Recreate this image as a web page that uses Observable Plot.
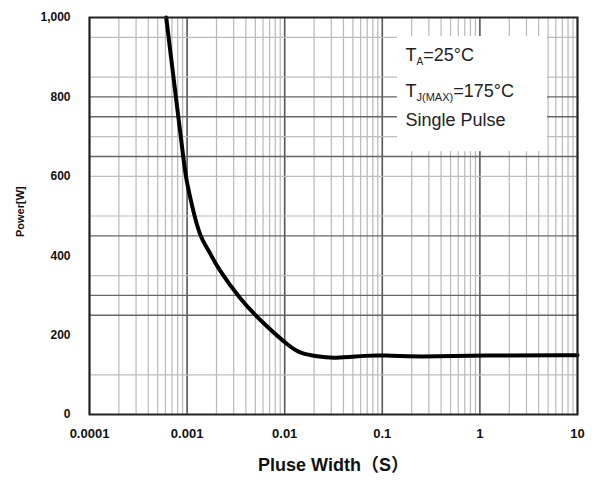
<!DOCTYPE html>
<html>
<head>
<meta charset="utf-8">
<script src="https://cdn.jsdelivr.net/npm/d3@7"></script>
<script src="https://cdn.jsdelivr.net/npm/@observablehq/plot@0.6"></script>
<style>
  html, body { margin: 0; padding: 0; background: #fff; }
  svg { display: block; }
</style>
</head>
<body>
<div id="chart"></div>
<script>
// Pulse width (s) vs power (W)
const pulseWidth = [0.000611, 0.000767, 0.000914, 0.000968, 0.001101, 0.001219, 0.001371, 0.001545, 0.001738, 0.002033, 0.003524, 0.006622, 0.01146, 0.01452, 0.02153, 0.03162, 0.07, 0.1028, 0.228, 1.01, 10];
const power      = [1000,     800,      649,      598,      535,      490,      449,      425,      405,      371,      288,      220,      169,     154,     146,     141,     149,  149,    145,   149,  149];

const xTicks = [0.0001, 0.001, 0.01, 0.1, 1, 10];
const xTickLabels = ["0.0001", "0.001", "0.01", "0.1", "1", "10"];
const yTicks = [0, 200, 400, 600, 800, 1000];
const yTickLabels = ["0", "200", "400", "600", "800", "1,000"];

const decades = [0.0001, 0.001, 0.01, 0.1, 1];
const minorSteps = [2, 3, 4, 5, 6, 7, 8, 9];
const yGridDark = [250, 300, 450, 650, 750, 800];
const yGridLight = [100, 350, 500, 600, 700, 850, 950];

const noteBox = {x1: 0.143, x2: 4.93, y1: 662, y2: 952};

const data = pulseWidth.map((x, i) => ({x, y: power[i]}));
const minorX = decades.flatMap(d => minorSteps.map(m => d * m));
const xLabelData = xTicks.map((x, i) => ({x, label: xTickLabels[i]}));
const yLabelData = yTicks.map((y, i) => ({y, label: yTickLabels[i]}));

const font = "'Liberation Sans', Arial, 'Noto Sans CJK SC', sans-serif";

const plot = Plot.plot({
  width: 596,
  height: 484,
  marginLeft: 89,
  marginRight: 19,
  marginTop: 17,
  marginBottom: 70,
  style: {fontFamily: font, background: "#fff"},
  x: {type: "log", domain: [0.0001, 10], axis: null},
  y: {domain: [0, 1000], axis: null},
  marks: [
    Plot.ruleX(minorX, {stroke: "#b8b8b8", strokeWidth: 1.2}),
    Plot.ruleX(xTicks, {stroke: "#555", strokeWidth: 1.6}),
    Plot.ruleY(yGridLight, {stroke: "#bdbdbd", strokeWidth: 1.2}),
    Plot.ruleY(yGridDark, {stroke: "#666", strokeWidth: 1.4}),
    Plot.rect([noteBox], {x1: "x1", x2: "x2", y1: "y1", y2: "y2", fill: "#fff"}),
    Plot.line(data, {x: "x", y: "y", stroke: "#000", strokeWidth: 4, curve: "basis"}),
    Plot.frame({stroke: "#222", strokeWidth: 2}),
    Plot.text(xLabelData, {x: "x", text: "label", frameAnchor: "bottom", dy: 23,
      fontSize: 13, fontWeight: "bold", fill: "#111"}),
    Plot.text(yLabelData, {y: "y", text: "label", frameAnchor: "left", dx: -19, textAnchor: "end",
      fontSize: 12, fontWeight: "bold", fill: "#111"}),
    Plot.text(["Pluse Width（S）"], {frameAnchor: "bottom", dy: 56, fontSize: 18, fontWeight: "bold", fill: "#111"}),
    Plot.text(["Power[W]"], {frameAnchor: "left", dx: -69, dy: 21, rotate: -90, fontSize: 11, fontWeight: "bold", fill: "#111"})
  ]
});

document.getElementById("chart").appendChild(plot);

// Annotation with subscripts
const sx = plot.scale("x"), sy = plot.scale("y");
const g = d3.select(plot).append("g")
  .attr("font-family", font).attr("fill", "#222").attr("font-size", 18)
  .attr("text-anchor", "start");
const ax = sx.apply(0.175);
const t1 = g.append("text").attr("x", ax).attr("y", sy.apply(889));
t1.append("tspan").text("T");
t1.append("tspan").attr("font-size", 10).attr("dy", 4).text("A");
t1.append("tspan").attr("dy", -4).text("=25°C");
const t2 = g.append("text").attr("x", ax).attr("y", sy.apply(798));
t2.append("tspan").text("T");
t2.append("tspan").attr("font-size", 11).attr("dy", 4).text("J(MAX)");
t2.append("tspan").attr("dy", -4).text("=175°C");
g.append("text").attr("x", ax).attr("y", sy.apply(725)).text("Single Pulse");
</script>
</body>
</html>
